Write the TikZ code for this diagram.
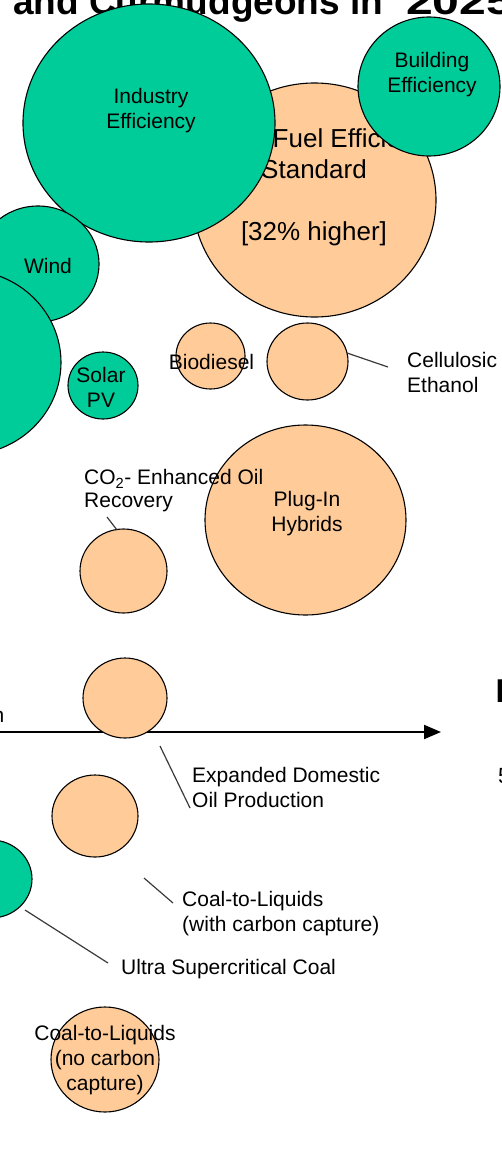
\documentclass[tikz,border=0pt]{standalone}
\usepackage{fontspec}
\setmainfont{Liberation Sans}
\usetikzlibrary{shapes.geometric,arrows.meta}
\definecolor{grn}{HTML}{00CC99}
\definecolor{peach}{HTML}{FFCC99}
\definecolor{leadc}{HTML}{3A3A3A}
\begin{document}
\begin{tikzpicture}[x=1pt,y=-1pt,
  bub/.style={ellipse, draw=black, line width=1.1pt, inner sep=0pt},
  gbub/.style={bub, fill=grn},
  obub/.style={bub, fill=peach},
  lbl/.style={font=\fontsize{21}{25}\selectfont, text=black, inner sep=0pt},
  leader/.style={draw=leadc, line width=1.2pt},
  axisline/.style={draw=black, line width=2pt, -{Triangle[length=17pt,width=14pt]}}]
\useasboundingbox (0,0) rectangle (501,1153);
\clip (0,0) rectangle (501,1153);

% title (cut off at the top)
\node[anchor=base west, inner sep=0pt, font=\fontsize{37}{40}\selectfont\bfseries] (title) at (13,15) {and Curmudgeons in\hspace*{23pt}\scalebox{1.3}[1]{2025}};

% axis
\coordinate (axL) at (-3,732);
\coordinate (axR) at (441,732);
\draw[axisline] (axL) -- (axR);
\node[lbl, anchor=base east] (axlabel) at (4.5,722) {n};
\node[anchor=base west, inner sep=0pt, font=\fontsize{33}{36}\selectfont\bfseries] (rightE) at (495.5,702) {E};
\node[lbl, anchor=base west, font=\fontsize{22}{25}\selectfont] (right5) at (498,783) {5};

% fuel efficiency standard
\node[obub, minimum width=243pt, minimum height=234pt] (fuel) at (314.5,200) {};
\node[lbl, align=center, font=\fontsize{26}{31}\selectfont, anchor=north] (fueltxt) at (314,128) {\hspace*{86pt}Fuel Efficiency\\Standard\\[31pt]{[32\% higher]}};

% industry & building efficiency
\node[gbub, minimum width=252pt, minimum height=238pt] (industry) at (149,123) {};
\node[lbl, align=center] (industrytxt) at (151,111) {Industry\\Efficiency};
\node[gbub, minimum width=142pt, minimum height=139pt] (building) at (429,86.5) {};
\node[lbl, align=center] (buildingtxt) at (432,75) {Building\\Efficiency};

% wind and big left circle
\node[gbub, minimum width=122pt, minimum height=116pt] (wind) at (38,264) {};
\node[lbl] (windtxt) at (48,265.5) {Wind};
\node[gbub, minimum width=192pt, minimum height=185pt] (bigleft) at (-35,362.5) {};

% solar, biodiesel, cellulosic
\node[gbub, minimum width=70pt, minimum height=67pt] (solar) at (103,385.5) {};
\node[lbl, align=center] (solartxt) at (101,387) {Solar\\PV};
\node[obub, minimum width=69pt, minimum height=66pt] (biodiesel) at (210.5,356) {};
\node[lbl] (biodieseltxt) at (211.5,362) {Biodiesel};
\node[obub, minimum width=81pt, minimum height=77pt] (cellulosic) at (307.5,361.5) {};
\node[lbl, align=left, anchor=west] (cellulosictxt) at (407,372) {Cellulosic\\Ethanol};
\coordinate (cellA) at (347,353);
\coordinate (cellB) at (388,367);
\draw[leader] (cellA) -- (cellB);

% plug-in hybrids
\node[obub, minimum width=201pt, minimum height=190pt] (plugin) at (305.5,520) {};
\node[lbl, align=center] (plugintxt) at (307,514) {Plug-In\\Hybrids};

% CO2 enhanced oil recovery
\node[obub, minimum width=87pt, minimum height=84pt] (eor) at (123.5,571) {};
\node[lbl, align=left, anchor=west, font=\fontsize{21}{23}\selectfont] (eortxt) at (84,491) {CO\textsubscript{2}- Enhanced Oil\\Recovery};
\coordinate (eorA) at (107,517);
\coordinate (eorB) at (117,530);
\draw[leader] (eorA) -- (eorB);

% expanded domestic oil production
\node[obub, minimum width=84pt, minimum height=80pt] (expanded) at (125,698) {};
\node[lbl, align=left, anchor=west] (expandedtxt) at (192,787) {Expanded Domestic\\Oil Production};
\coordinate (expA) at (160,746);
\coordinate (expB) at (190,808);
\draw[leader] (expA) -- (expB);

% coal-to-liquids with carbon capture
\node[obub, minimum width=86pt, minimum height=82pt] (ctlcc) at (95,816) {};
\node[lbl, align=left, anchor=west] (ctlcctxt) at (182,914) {Coal-to-Liquids\\(with carbon capture)};
\coordinate (ctlA) at (144,878);
\coordinate (ctlB) at (173,903);
\draw[leader] (ctlA) -- (ctlB);

% ultra supercritical coal
\node[gbub, minimum width=82pt, minimum height=78pt] (usc) at (-9,879) {};
\node[lbl, anchor=west] (usctxt) at (121,969) {Ultra Supercritical Coal};
\coordinate (uscA) at (25,910);
\coordinate (uscB) at (108,963);
\draw[leader] (uscA) -- (uscB);

% coal-to-liquids without carbon capture
\node[obub, minimum width=108pt, minimum height=105pt] (ctlno) at (105,1059.5) {};
\node[lbl, align=center] (ctlnotxt) at (105,1060) {Coal-to-Liquids\\(no carbon\\capture)};
\end{tikzpicture}
\end{document}
